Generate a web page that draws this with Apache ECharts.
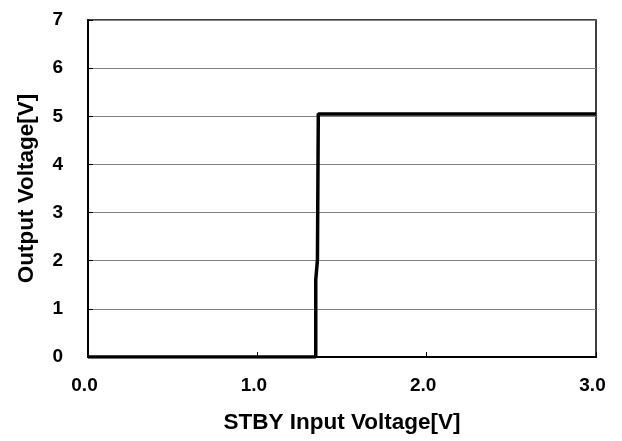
<!DOCTYPE html>
<html><head><meta charset="utf-8">
<script src="https://cdn.jsdelivr.net/npm/echarts@6/dist/echarts.min.js"></script>
<style>html,body{margin:0;padding:0;background:#fff}#c{width:622px;height:441px}</style>
</head><body><div id="c"></div>
<script>
const xValues = [0.0, 1.345, 1.345, 1.355, 1.36, 3.0];
const yValues = [0.0, 0.0, 1.6, 2.02, 5.05, 5.05];
const xTicks = ['0.0', '1.0', '2.0', '3.0'];
const yTicks = ['0', '1', '2', '3', '4', '5', '6', '7'];
const xTitle = 'STBY Input Voltage[V]';
const yTitle = 'Output Voltage[V]';

const chart = echarts.init(document.getElementById('c'), null, {renderer: 'canvas'});
const font = 'Liberation Sans, Arial, sans-serif';
chart.setOption({
  animation: false,
  backgroundColor: '#fff',
  grid: {left: 88, right: 26, top: 20, bottom: 84, show: true, borderColor: '#000', borderWidth: 1.5, backgroundColor: 'transparent'},
  xAxis: {
    type: 'value', min: 0, max: 3, interval: 1,
    name: xTitle, nameLocation: 'middle', nameGap: 54,
    nameTextStyle: {fontFamily: font, fontWeight: 'bold', fontSize: 22.5, color: '#000'},
    axisLine: {onZero: false, lineStyle: {color: '#000', width: 2}},
    axisTick: {show: true, inside: true, length: 5, lineStyle: {color: '#000', width: 1}},
    axisLabel: {margin: 19, padding: [0, 7, 0, 0], fontFamily: font, fontWeight: 'bold', fontSize: 19, color: '#000',
      formatter: v => xTicks[Math.round(v)]},
    splitLine: {show: false}
  },
  yAxis: {
    type: 'value', min: 0, max: 7, interval: 1,
    name: yTitle, nameLocation: 'middle', nameGap: 50, nameRotate: 90,
    nameTextStyle: {fontFamily: font, fontWeight: 'bold', fontSize: 22.5, color: '#000'},
    axisLine: {onZero: false, lineStyle: {color: '#000', width: 2}},
    axisTick: {show: true, inside: true, length: 5, lineStyle: {color: '#000', width: 1}},
    axisLabel: {margin: 25, fontFamily: font, fontWeight: 'bold', fontSize: 19, color: '#000',
      formatter: v => yTicks[Math.round(v)]},
    splitLine: {show: true, lineStyle: {color: '#808080', width: 1}}
  },
  series: [{
    type: 'line',
    data: xValues.map((x, i) => [x, yValues[i]]),
    showSymbol: false,
    lineStyle: {color: '#000', width: 3.5},
    z: 5
  }]
});
</script></body></html>
